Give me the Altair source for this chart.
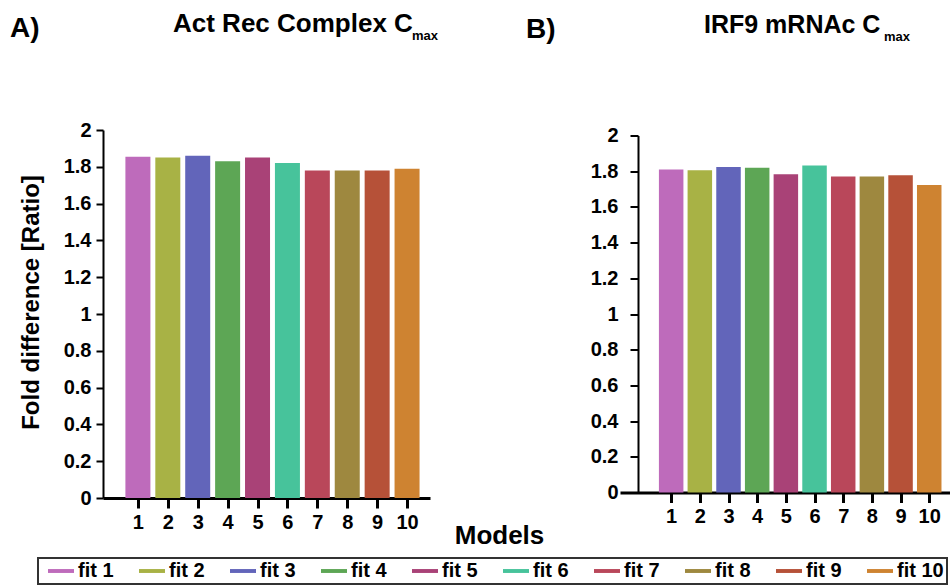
import altair as alt
import pandas as pd

# ---- data -------------------------------------------------------------
models = [1, 2, 3, 4, 5, 6, 7, 8, 9, 10]
fit_labels = ["fit 1", "fit 2", "fit 3", "fit 4", "fit 5",
              "fit 6", "fit 7", "fit 8", "fit 9", "fit 10"]
act_rec_cmax = [1.855, 1.85, 1.86, 1.83, 1.85, 1.82, 1.78, 1.78, 1.78, 1.79]
irf9_mrna_cmax = [1.81, 1.806, 1.824, 1.819, 1.783, 1.832, 1.77, 1.77, 1.778, 1.722]
fit_colors = ["#BE6BBB", "#A8B245", "#6265BA", "#5DA655", "#A94277",
              "#47C39B", "#B9475A", "#9E883F", "#B65138", "#CE8331"]
y_ticks = [0, 0.2, 0.4, 0.6, 0.8, 1, 1.2, 1.4, 1.6, 1.8, 2]

FONT = "Liberation Sans"

df_a = pd.DataFrame({"model": models, "fit": fit_labels, "ratio": act_rec_cmax})
df_b = pd.DataFrame({"model": models, "fit": fit_labels, "ratio": irf9_mrna_cmax})

# thin horizontal bar used as the legend swatch
line_swatch = "M-2,-0.3L2,-0.3L2,0.3L-2,0.3Z"

color = alt.Color(
    "fit:N",
    scale=alt.Scale(domain=fit_labels, range=fit_colors),
    legend=alt.Legend(
        title=None, orient="none", legendX=-65, legendY=428,
        direction="horizontal", columns=10, gridAlign="all",
        symbolType=line_swatch, symbolSize=169, symbolStrokeWidth=0,
        labelFont=FONT, labelFontSize=20, labelFontWeight="bold",
        labelColor="black", labelOffset=7, columnPadding=7,
        padding=3, symbolOffset=10, strokeColor="#333333",
    ),
)


def note(text, x, y, size):
    """A bold heading text placed relative to the panel's plot area."""
    return alt.Chart(pd.DataFrame({"t": [text]})).mark_text(
        align="left", baseline="alphabetic", fontSize=size,
        fontWeight="bold", font=FONT, color="black",
    ).encode(text="t:N", x=alt.value(x), y=alt.value(y))


# ---- panel A ----------------------------------------------------------
bars_a = alt.Chart(df_a).mark_bar(width=25).encode(
    x=alt.X("model:Q",
            scale=alt.Scale(domain=[0, 10.6], nice=False, zero=False),
            axis=alt.Axis(values=models, format="d", title="Models",
                          titleX=396, titleY=45, titleAlign="center",
                          titleBaseline="alphabetic", titleFontSize=26)),
    y=alt.Y("ratio:Q",
            scale=alt.Scale(domain=[0, 2], nice=False),
            axis=alt.Axis(values=y_ticks, format="~g",
                          title="Fold difference [Ratio]", titleFontSize=24,
                          titleY=172, titlePadding=20,
                          tickSize=7, labelPadding=5)),
    color=color,
)

panel_a = alt.layer(
    bars_a,
    note("A)", -93, -93, 28),
    note("Act Rec Complex C", 70, -98, 26),
    note("max", 309, -90, 13),
).properties(width=327, height=368)

# ---- panel B ----------------------------------------------------------
bars_b = alt.Chart(df_b).mark_bar(width=24.5).encode(
    x=alt.X("model:Q",
            scale=alt.Scale(domain=[-0.61, 10.55], nice=False, zero=False),
            axis=alt.Axis(values=models, format="d", title=None)),
    y=alt.Y("ratio:Q",
            scale=alt.Scale(domain=[0, 2], nice=False),
            axis=alt.Axis(values=y_ticks, format="~g", title=None,
                          offset=-18, tickSize=8, labelPadding=12)),
    color=color,
)

panel_b = alt.layer(
    bars_b,
    note("B)", -94, -98, 28),
    note("IRF9 mRNAc C", 84, -103, 25),
    note("max", 264, -95, 13),
).properties(width=330, height=357)

chart = alt.hconcat(
    panel_a, panel_b, spacing=190, bounds="flush", center=True,
).properties(
    padding={"left": 10, "top": 11, "right": 0, "bottom": 0},
).configure_view(
    stroke=None,
).configure_axis(
    grid=False, domainColor="black", domainWidth=2, tickColor="black",
    tickWidth=2, labelFont=FONT, labelFontSize=20, labelFontWeight="bold",
    labelColor="black", titleFont=FONT, titleFontWeight="bold",
    titleColor="black",
).configure_axisX(
    tickSize=10, tickWidth=3, domainWidth=3, labelPadding=4,
).configure_legend(
    strokeWidth=2,
)

chart.save("out.html", embed_options={"renderer": "svg", "actions": False})
